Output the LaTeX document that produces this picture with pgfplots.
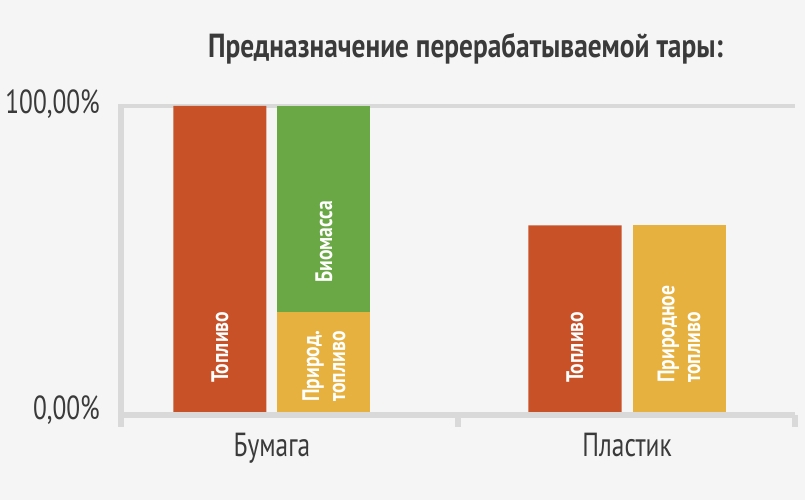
\documentclass[border=0pt]{standalone}
\usepackage{pgfplots}
\pgfplotsset{compat=1.18}
\usepackage{fontspec}
\setmainfont{PT Sans}
\newfontfamily\condfont[FakeStretch=0.82]{PT Sans}
\newfontfamily\tickfont[FakeStretch=0.76]{PT Sans}
\definecolor{bg}{HTML}{F5F5F5}
\definecolor{ax}{HTML}{D9D9D9}
\definecolor{orng}{HTML}{C85127}
\definecolor{grn}{HTML}{6AA745}
\definecolor{yel}{HTML}{E7B13F}
\definecolor{txt}{HTML}{3A3A3A}
\pgfplotsset{
  base/.style={
    scale only axis, width=674bp, height=309bp,
    at={(121bp,85bp)}, anchor=south west,
    xmin=-0.425, xmax=1.473, ymin=-1, ymax=100,
    axis line style={draw=none}, major tick length=0,
    clip=false,
  },
}
\tikzset{
  barlabel/.style={rotate=90, anchor=west, text=white, inner sep=0pt,
    font=\condfont\bfseries\fontsize{24}{26}\selectfont, align=left},
}
\begin{document}
\begin{tikzpicture}
\fill[bg] (0,0) rectangle (805bp,500bp);
\node[anchor=base, text=txt, font=\condfont\bfseries\fontsize{33.5}{36}\selectfont] at (465.5bp,442bp) {Предназначение перерабатываемой тары:};
\begin{axis}[base,
  xtick={0,1}, xticklabels={Бумага,Пластик},
  ytick={0,100}, yticklabels={{0,00\%},{100,00\%}},
  tick label style={text=txt, font=\tickfont\fontsize{33.5}{36}\selectfont, inner sep=0pt},
  xticklabel style={anchor=base, yshift=-41bp},
  yticklabel style={anchor=base east, xshift=-21bp, yshift=-8bp},
]
% grid line at 100 %
\draw[ax, line width=4bp] (axis cs:-0.425,100) -- (axis cs:1.473,100);
\addplot[ybar, bar width=0.262, bar shift=-0.1465, fill=orng, draw=none] coordinates {(0,100) (1,61)};
\addplot[ybar, bar width=0.262, bar shift=0.1465, fill=yel, draw=none] coordinates {(1,61)};
% axis lines
\draw[ax, line width=5bp] (axis cs:-0.425,100.6) -- (axis cs:-0.425,-5);
\draw[ax, line width=6bp] (axis cs:-0.425,-1) -- (axis cs:1.473,-1);
\draw[ax, line width=6bp] (axis cs:0.524,-1) -- (axis cs:0.524,-5);
\draw[ax, line width=6bp] (axis cs:1.473,-1) -- (axis cs:1.473,-5);
\end{axis}
\begin{axis}[base, ybar stacked, bar width=0.262, xtick=\empty, ytick=\empty]
\addplot[fill=yel, draw=none, bar shift=0.1465] coordinates {(0,32.7)};
\addplot[fill=grn, draw=none, bar shift=0.1465] coordinates {(0,67.3)};
\end{axis}
\begin{axis}[base, xtick=\empty, ytick=\empty]
\node[barlabel] at (axis cs:-0.1465,9.5) {Топливо};
\node[barlabel] at (axis cs:0.1465,42.2) {Биомасса};
\node[barlabel] at (axis cs:0.1465,3.3) {Природ.\\топливо};
\node[barlabel] at (axis cs:0.8535,9.5) {Топливо};
\node[barlabel] at (axis cs:1.1465,9.5) {Природное\\топливо};
\end{axis}
\end{tikzpicture}
\end{document}
